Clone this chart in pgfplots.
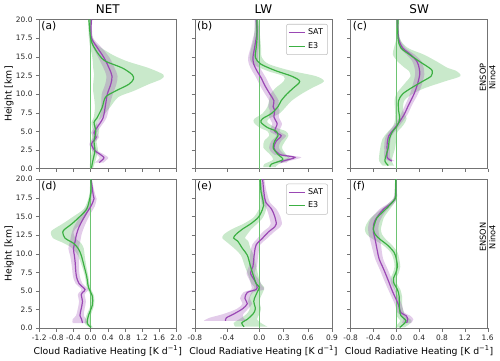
\documentclass[border=0pt]{standalone}
\usepackage{fontspec}
\setmainfont{DejaVu Sans}
\usepackage{pgfplots}
\usepackage{pgfplotstable}
\pgfplotsset{compat=1.18}
\usepgfplotslibrary{groupplots,fillbetween}

\definecolor{satc}{HTML}{9A48B4}
\definecolor{e3c}{HTML}{3CB043}

% columns: height, mean, lower and upper edge of the band
\pgfplotstableread{
y m lo hi
0.8 0.20 0.10 0.30
1.2 0.28 0.18 0.38
1.5 0.31 0.21 0.41
2.0 0.20 0.12 0.28
2.4 0.10 0.04 0.16
3.3 0.02 -0.03 0.07
4.2 0.13 0.06 0.20
4.8 0.08 0.01 0.15
5.5 0.15 0.08 0.22
6.8 0.29 0.21 0.37
8.6 0.35 0.25 0.45
10.0 0.39 0.26 0.52
11.3 0.47 0.34 0.60
12.4 0.50 0.37 0.63
13.5 0.43 0.30 0.56
14.9 0.31 0.18 0.44
16.2 0.16 0.06 0.26
17.5 0.02 -0.02 0.06
18.9 0.01 -0.01 0.03
20.0 0.02 0.00 0.04
}\aSAT
\pgfplotstableread{
y m lo hi
0.1 0.02 -0.02 0.06
1.0 0.05 -0.01 0.11
2.4 0.10 0.03 0.17
3.7 0.08 0.02 0.14
5.0 0.12 0.05 0.20
6.2 0.08 0.02 0.15
6.8 0.15 0.07 0.25
8.2 0.27 0.10 0.45
9.6 0.35 0.08 0.65
10.4 0.58 0.06 1.00
11.3 0.89 0.06 1.35
12.0 1.00 0.07 1.65
12.6 0.97 0.08 1.70
13.5 0.74 0.06 1.35
14.4 0.35 0.05 0.85
15.3 0.19 0.03 0.50
16.6 0.05 -0.02 0.15
17.5 0.00 -0.04 0.05
18.5 -0.02 -0.05 0.02
20.0 -0.04 -0.06 -0.02
}\aEIII
\pgfplotstableread{
y m lo hi
0.8 0.27 0.20 0.34
1.0 0.29 0.22 0.36
1.5 0.44 0.36 0.52
1.9 0.25 0.18 0.32
2.8 0.18 0.12 0.24
3.7 0.21 0.15 0.27
4.4 0.27 0.21 0.33
5.0 0.19 0.13 0.25
6.0 0.22 0.16 0.28
6.9 0.18 0.12 0.24
7.8 0.19 0.13 0.25
8.3 0.17 0.11 0.23
9.1 0.18 0.12 0.24
10.0 0.13 0.07 0.19
11.1 0.07 0.01 0.13
12.2 0.02 -0.04 0.08
13.1 -0.03 -0.09 0.03
14.0 -0.07 -0.13 -0.01
14.9 -0.08 -0.14 -0.02
16.2 -0.06 -0.11 -0.01
17.5 -0.04 -0.08 0.00
18.4 -0.03 -0.06 0.00
20.0 -0.04 -0.06 -0.02
}\bSAT
\pgfplotstableread{
y m lo hi
0.2 0.13 0.05 0.20
0.6 0.15 0.06 0.24
1.2 0.29 0.17 0.38
1.9 0.23 0.13 0.33
2.8 0.17 0.05 0.28
3.7 0.19 0.06 0.32
4.4 0.23 0.12 0.36
5.0 0.21 0.10 0.33
5.5 0.10 0.00 0.20
6.2 0.02 -0.07 0.10
6.7 0.04 -0.06 0.12
7.4 0.15 0.04 0.25
8.3 0.23 0.10 0.33
9.1 0.27 0.12 0.40
10.0 0.34 0.14 0.52
10.8 0.42 0.20 0.65
11.7 0.50 0.30 0.80
12.4 0.40 0.30 0.70
13.1 0.21 0.10 0.40
14.0 0.02 -0.08 0.12
14.9 -0.05 -0.12 0.03
16.2 -0.04 -0.10 0.02
17.5 -0.03 -0.07 0.01
20.0 -0.03 -0.05 -0.01
}\bEIII
\pgfplotstableread{
y m lo hi
1.0 -0.08 -0.13 -0.03
1.5 -0.16 -0.21 -0.11
2.4 -0.16 -0.21 -0.11
3.3 -0.16 -0.21 -0.11
4.4 -0.13 -0.18 -0.08
5.3 -0.04 -0.09 0.01
6.2 0.05 0.00 0.10
7.3 0.14 0.08 0.20
8.6 0.22 0.16 0.28
10.0 0.31 0.24 0.38
11.3 0.37 0.29 0.45
12.6 0.41 0.33 0.49
13.5 0.40 0.32 0.48
14.4 0.36 0.28 0.44
15.3 0.25 0.18 0.32
16.2 0.11 0.06 0.16
17.5 0.04 0.02 0.06
20.0 0.02 0.01 0.03
}\cSAT
\pgfplotstableread{
y m lo hi
0.4 -0.14 -0.24 -0.04
1.0 -0.20 -0.30 -0.08
1.7 -0.18 -0.30 -0.06
2.8 -0.14 -0.28 -0.02
4.0 -0.12 -0.24 0.00
4.9 -0.07 -0.15 0.02
5.8 0.02 -0.05 0.12
6.7 0.06 -0.02 0.18
7.8 0.04 -0.02 0.12
9.1 0.04 -0.03 0.14
10.0 0.11 0.00 0.28
10.8 0.26 0.08 0.50
11.7 0.46 0.18 0.85
12.4 0.61 0.25 1.12
13.1 0.63 0.22 1.05
13.5 0.58 0.15 0.90
14.4 0.40 0.02 0.70
15.3 0.23 -0.06 0.48
16.2 0.08 -0.04 0.20
17.5 0.03 0.00 0.06
20.0 0.03 0.01 0.05
}\cEIII
\pgfplotstableread{
y m lo hi
0.7 -0.19 -0.42 -0.08
1.2 -0.21 -0.42 -0.10
1.7 -0.25 -0.34 -0.16
2.6 -0.22 -0.30 -0.14
3.6 -0.19 -0.27 -0.11
4.5 -0.22 -0.30 -0.14
4.8 -0.19 -0.27 -0.11
5.2 -0.13 -0.21 -0.05
6.0 -0.27 -0.35 -0.19
6.9 -0.33 -0.41 -0.25
7.9 -0.35 -0.43 -0.27
8.8 -0.36 -0.45 -0.27
9.8 -0.38 -0.48 -0.28
10.7 -0.40 -0.52 -0.28
11.7 -0.36 -0.48 -0.24
12.6 -0.33 -0.45 -0.21
13.6 -0.27 -0.39 -0.15
14.5 -0.19 -0.30 -0.08
15.5 -0.09 -0.19 0.01
16.4 0.01 -0.08 0.10
17.4 0.08 0.02 0.14
17.9 0.06 0.01 0.11
18.8 0.04 0.01 0.07
20.0 0.01 -0.01 0.03
}\dSAT
\pgfplotstableread{
y m lo hi
0.1 0.01 -0.03 0.06
0.7 -0.08 -0.14 -0.02
1.7 -0.05 -0.10 0.00
3.1 0.04 0.00 0.08
4.3 0.04 0.00 0.08
5.5 -0.05 -0.09 -0.01
6.9 -0.09 -0.13 -0.05
8.3 -0.15 -0.20 -0.10
9.8 -0.22 -0.30 -0.14
10.7 -0.29 -0.42 -0.16
11.4 -0.40 -0.62 -0.22
12.1 -0.60 -0.88 -0.36
12.9 -0.65 -0.93 -0.40
13.3 -0.60 -0.86 -0.36
14.0 -0.44 -0.66 -0.24
15.0 -0.25 -0.40 -0.12
16.0 -0.09 -0.16 -0.03
17.4 -0.02 -0.05 0.02
18.3 0.01 -0.02 0.03
20.0 0.01 -0.01 0.03
}\dEIII
\pgfplotstableread{
y m lo hi
1.0 -0.42 -0.69 -0.15
1.4 -0.41 -0.62 -0.20
1.9 -0.32 -0.45 -0.20
2.6 -0.21 -0.28 -0.14
3.3 -0.15 -0.21 -0.09
4.0 -0.18 -0.24 -0.12
4.8 -0.15 -0.20 -0.08
5.2 -0.04 -0.10 0.06
5.7 -0.03 -0.10 0.03
6.4 -0.06 -0.12 0.00
7.4 -0.11 -0.16 -0.06
8.3 -0.08 -0.13 -0.03
9.3 -0.07 -0.12 -0.02
10.2 -0.06 -0.11 -0.01
11.2 -0.04 -0.09 0.01
12.1 0.04 -0.02 0.10
12.9 0.11 0.04 0.18
13.6 0.19 0.12 0.26
14.0 0.21 0.14 0.28
15.0 0.19 0.12 0.26
16.0 0.15 0.09 0.21
16.9 0.08 0.03 0.13
17.9 0.06 0.02 0.10
18.8 0.05 0.02 0.08
20.0 0.04 0.02 0.06
}\eSAT
\pgfplotstableread{
y m lo hi
0.2 -0.19 -0.30 0.10
0.7 -0.22 -0.32 0.02
1.2 -0.15 -0.25 -0.03
1.9 -0.08 -0.16 0.00
2.6 -0.05 -0.12 0.02
3.6 -0.07 -0.14 0.00
4.3 -0.05 -0.12 0.02
5.0 -0.02 -0.09 0.05
5.5 0.00 -0.06 0.06
6.0 -0.04 -0.10 0.02
6.9 -0.07 -0.13 -0.01
8.3 -0.11 -0.18 -0.04
9.8 -0.15 -0.23 -0.07
10.7 -0.21 -0.31 -0.11
11.7 -0.27 -0.42 -0.14
12.1 -0.32 -0.46 -0.18
12.6 -0.29 -0.44 -0.15
13.3 -0.21 -0.34 -0.10
14.0 -0.11 -0.20 -0.03
14.8 -0.02 -0.08 0.04
15.5 0.02 -0.03 0.07
16.4 0.05 0.01 0.09
17.4 0.04 0.01 0.07
18.3 0.02 0.00 0.04
20.0 0.01 0.00 0.02
}\eEIII
\pgfplotstableread{
y m lo hi
0.7 0.18 0.10 0.26
1.2 0.20 0.12 0.30
1.7 0.17 0.10 0.24
2.1 0.08 0.02 0.14
3.1 0.04 -0.02 0.10
4.0 -0.01 -0.07 0.05
5.0 -0.07 -0.13 -0.01
6.4 -0.14 -0.21 -0.07
7.9 -0.22 -0.29 -0.15
9.3 -0.30 -0.37 -0.23
10.7 -0.34 -0.42 -0.26
11.9 -0.37 -0.46 -0.28
12.9 -0.40 -0.49 -0.31
13.8 -0.40 -0.49 -0.31
14.5 -0.37 -0.46 -0.28
15.2 -0.31 -0.39 -0.23
16.0 -0.22 -0.29 -0.15
16.7 -0.10 -0.15 -0.05
17.4 -0.02 -0.05 0.01
18.3 -0.01 -0.03 0.01
20.0 -0.01 -0.02 0.00
}\fSAT
\pgfplotstableread{
y m lo hi
0.1 0.06 -0.02 0.14
0.5 0.12 0.02 0.22
1.0 0.17 0.07 0.27
1.7 0.08 0.00 0.16
2.4 0.06 0.00 0.12
3.3 0.05 0.00 0.10
4.3 0.05 0.00 0.10
5.2 0.02 -0.03 0.07
6.0 -0.04 -0.09 0.01
6.7 -0.05 -0.10 0.00
7.4 -0.01 -0.06 0.04
8.3 0.02 -0.03 0.07
9.3 0.00 -0.05 0.05
10.2 -0.04 -0.10 0.02
11.2 -0.16 -0.24 -0.08
11.9 -0.28 -0.40 -0.18
12.6 -0.37 -0.52 -0.25
13.3 -0.40 -0.55 -0.27
14.0 -0.38 -0.52 -0.25
14.8 -0.34 -0.45 -0.22
15.5 -0.25 -0.34 -0.16
16.4 -0.13 -0.19 -0.07
17.4 -0.02 -0.05 0.01
18.3 -0.01 -0.03 0.01
20.0 -0.01 -0.02 0.00
}\fEIII

% band + line for one series; #3 is a unique path name
\newcommand{\band}[3]{%
  \addplot[draw=none, smooth, forget plot, name path=#3l] table[x=lo, y=y]{#1};
  \addplot[draw=none, smooth, forget plot, name path=#3h] table[x=hi, y=y]{#1};
  \addplot[fill=#2, fill opacity=0.28, draw=none, forget plot] fill between[of=#3l and #3h, reverse=true];
}
\newcommand{\curve}[2]{%
  \addplot[#2, line width=0.9pt, smooth, forget plot] table[x=m, y=y]{#1};
}
\newcommand{\zeroline}{%
  \addplot[e3c!75, line width=0.4pt, forget plot] coordinates {(0,0) (0,20)};
}
\newcommand{\panel}[1]{\node[anchor=north west, font=\fontsize{8}{9}\selectfont, inner sep=1.5pt] at (rel axis cs:0,1) {#1};}
\newcommand{\leg}{%
  \addlegendimage{satc, line width=0.8pt}\addlegendentry{SAT}
  \addlegendimage{e3c, line width=0.8pt}\addlegendentry{E3}
}

\begin{document}
\begin{tikzpicture}
\begin{groupplot}[
  group style={group size=3 by 2, horizontal sep=14pt, vertical sep=8pt,
    xticklabels at=edge bottom, yticklabels at=edge left},
  scale only axis, width=103pt, height=112pt,
  ymin=0, ymax=20, ytick={0,2.5,...,20},
  axis line style={black!55}, tick style={black!55},
  tick pos=left, tick align=outside, major tick length=2.5pt,
  ticklabel style={font=\fontsize{5.6}{6.5}\selectfont, text=black!85,
    /pgf/number format/fixed, /pgf/number format/fixed zerofill,
    /pgf/number format/precision=1, /pgf/number format/assume math mode=true},
  xticklabel style={yshift=1pt},
  yticklabel style={xshift=1pt},
  title style={font=\fontsize{9}{10}\selectfont, yshift=-5pt},
  label style={font=\fontsize{7}{8}\selectfont},
  ylabel style={yshift=-5pt},
  xlabel style={yshift=3pt},
  legend style={at={(0.97,0.97)}, anchor=north east, font=\fontsize{6}{7}\selectfont,
    draw=black!25, rounded corners=1.5pt, inner sep=1.5pt, row sep=0pt},
  legend image code/.code={\draw[#1] (0cm,0cm) -- (0.42cm,0cm);},
  legend cell align=left,
]
% (a) NET, ENSOP
\nextgroupplot[title={NET}, ylabel={Height [km]}, xmin=-1.2, xmax=2.0, xtick={-1.2,-0.8,...,2.0}]
\band{\aEIII}{e3c}{ae}
\band{\aSAT}{satc}{as}
\zeroline
\curve{\aSAT}{satc}
\curve{\aEIII}{e3c}
\panel{(a)}
% (b) LW, ENSOP
\nextgroupplot[title={LW}, xmin=-0.8, xmax=0.9, xtick={-0.8,-0.4,0,0.3,0.6,0.9}]
\band{\bEIII}{e3c}{be}
\band{\bSAT}{satc}{bs}
\zeroline
\curve{\bSAT}{satc}
\curve{\bEIII}{e3c}
\panel{(b)}
\leg
% (c) SW, ENSOP
\nextgroupplot[title={SW}, xmin=-0.8, xmax=1.6, xtick={-0.8,-0.4,...,1.6}]
\band{\cEIII}{e3c}{ce}
\band{\cSAT}{satc}{cs}
\zeroline
\curve{\cSAT}{satc}
\curve{\cEIII}{e3c}
\panel{(c)}
% (d) NET, ENSON
\nextgroupplot[ylabel={Height [km]}, xlabel={Cloud Radiative Heating [K d\textsuperscript{−1}]},
  xmin=-1.2, xmax=2.0, xtick={-1.2,-0.8,...,2.0}]
\band{\dEIII}{e3c}{de}
\band{\dSAT}{satc}{ds}
\zeroline
\curve{\dSAT}{satc}
\curve{\dEIII}{e3c}
\panel{(d)}
% (e) LW, ENSON
\nextgroupplot[xlabel={Cloud Radiative Heating [K d\textsuperscript{−1}]},
  xmin=-0.8, xmax=0.9, xtick={-0.8,-0.4,0,0.3,0.6,0.9}]
\band{\eEIII}{e3c}{ee}
\band{\eSAT}{satc}{es}
\zeroline
\curve{\eSAT}{satc}
\curve{\eEIII}{e3c}
\panel{(e)}
\leg
% (f) SW, ENSON
\nextgroupplot[xlabel={Cloud Radiative Heating [K d\textsuperscript{−1}]},
  xmin=-0.8, xmax=1.6, xtick={-0.8,-0.4,...,1.6}]
\band{\fEIII}{e3c}{fe}
\band{\fSAT}{satc}{fs}
\zeroline
\curve{\fSAT}{satc}
\curve{\fEIII}{e3c}
\panel{(f)}
\end{groupplot}
% row labels right of the third column
\node[rotate=90, align=center, font=\fontsize{6.2}{7.2}\selectfont, xshift=12.5pt] at (group c3r1.east) {ENSOP\\Nino4};
\node[rotate=90, align=center, font=\fontsize{6.2}{7.2}\selectfont, xshift=12.5pt] at (group c3r2.east) {ENSON\\Nino4};
\end{tikzpicture}
\end{document}
